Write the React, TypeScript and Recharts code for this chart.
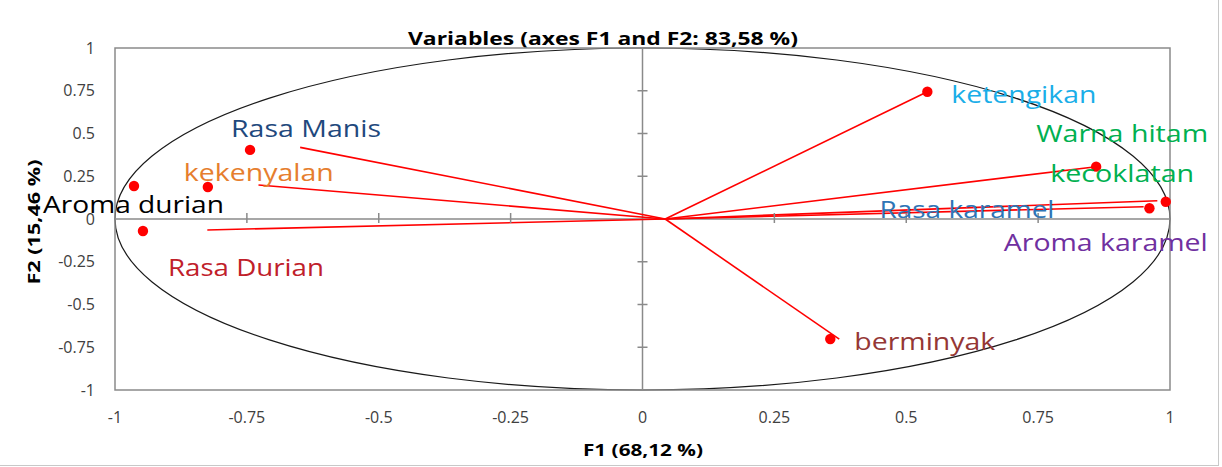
import {
  ScatterChart,
  Scatter,
  XAxis,
  YAxis,
  ReferenceLine,
  ReferenceArea,
} from "recharts";

// PCA correlation circle: variables on F1 / F2
const variables = [
  "Rasa Manis",
  "kekenyalan",
  "Aroma durian",
  "Rasa Durian",
  "ketengikan",
  "Warna hitam kecoklatan",
  "Rasa karamel",
  "Aroma karamel",
  "berminyak",
];
const f1 = [-0.744, -0.824, -0.964, -0.947, 0.54, 0.86, 0.961, 0.992, 0.356];
const f2 = [0.404, 0.187, 0.193, -0.07, 0.744, 0.306, 0.063, 0.101, -0.702];

// red vectors, all drawn from one common start
const vectorStart = { x: 0.043, y: 0 };
const vectorEndF1 = [-0.649, -0.728, -0.825, 0.54, 0.86, 0.95, 0.976, 0.373];
const vectorEndF2 = [0.419, 0.199, -0.064, 0.744, 0.306, 0.072, 0.107, -0.703];

const axisTicks = [-1, -0.75, -0.5, -0.25, 0, 0.25, 0.5, 0.75, 1];
const innerTicks = [-0.75, -0.5, -0.25, 0.25, 0.5, 0.75];

const points = variables.map((name, i) => ({ name, x: f1[i], y: f2[i] }));
const xZeroTicks = innerTicks.map((t) => ({ x: t, y: 0 }));
const yZeroTicks = innerTicks.map((t) => ({ x: 0, y: t }));

const FONT = "'Open Sans', 'Noto Sans', sans-serif";

const labelStyle: Record<
  string,
  { color: string; lines: { text: string; dx: number; dy: number; w: number }[] }
> = {
  "Rasa Manis": { color: "#1F497D", lines: [{ text: "Rasa Manis", dx: -19, dy: -13, w: 150 }] },
  kekenyalan: { color: "#E67E2E", lines: [{ text: "kekenyalan", dx: -24, dy: -6, w: 150 }] },
  "Aroma durian": { color: "#000000", lines: [{ text: "Aroma durian", dx: -91, dy: 27, w: 181 }] },
  "Rasa Durian": { color: "#C0202A", lines: [{ text: "Rasa Durian", dx: 25, dy: 45, w: 156 }] },
  ketengikan: { color: "#1AAEE8", lines: [{ text: "ketengikan", dx: 24, dy: 11, w: 145 }] },
  "Warna hitam kecoklatan": {
    color: "#00B050",
    lines: [
      { text: "Warna hitam", dx: -60, dy: -25, w: 172 },
      { text: "kecoklatan", dx: -46, dy: 15, w: 144 },
    ],
  },
  "Rasa karamel": { color: "#2E75B6", lines: [{ text: "Rasa karamel", dx: -270, dy: 10, w: 175 }] },
  "Aroma karamel": { color: "#7030A0", lines: [{ text: "Aroma karamel", dx: -162, dy: 49, w: 204 }] },
  berminyak: { color: "#953735", lines: [{ text: "berminyak", dx: 24, dy: 11, w: 141 }] },
};

const tickStyle = { fontSize: 16, fill: "#404040", fontFamily: FONT };

function FrameAndCircle(props: any) {
  const { x, y, width, height } = props;
  return (
    <g>
      <ellipse
        cx={x + width / 2}
        cy={y + height / 2}
        rx={width / 2}
        ry={height / 2}
        fill="none"
        stroke="#1a1a1a"
        strokeWidth={1.2}
      />
      <rect x={x} y={y} width={width} height={height} fill="none" stroke="#8a8a8a" strokeWidth={1.5} />
    </g>
  );
}

function VarDot(props: any) {
  const { cx, cy } = props;
  return <circle cx={cx} cy={cy} r={5.2} fill="#FF0000" />;
}

function VarLabel(props: any) {
  const { cx, cy, payload } = props;
  const st = labelStyle[payload.name];
  if (!st) return <g />;
  return (
    <g>
      {st.lines.map((l) => (
        <text
          key={l.text}
          x={cx + l.dx}
          y={cy + l.dy}
          fill={st.color}
          fontSize={24}
          fontFamily={FONT}
          textLength={l.w}
          lengthAdjust="spacingAndGlyphs"
        >
          {l.text}
        </text>
      ))}
    </g>
  );
}

function XZeroTick(props: any) {
  const { cx, cy } = props;
  return <line x1={cx} x2={cx} y1={cy - 6} y2={cy + 4} stroke="#8a8a8a" strokeWidth={1.5} />;
}

function YZeroTick(props: any) {
  const { cx, cy } = props;
  return <line x1={cx - 5} x2={cx + 5} y1={cy} y2={cy} stroke="#8a8a8a" strokeWidth={1.5} />;
}

export default function App() {
  return (
    <div style={{ position: "absolute", left: 0, top: 0, width: 1222, height: 467, background: "#fff" }}>
      <div
        style={{
          position: "absolute",
          left: 0,
          top: 0,
          width: 1218,
          height: 465,
          borderRight: "1px solid #c8c8c8",
          borderBottom: "1px solid #c8c8c8",
        }}
      />
      <ScatterChart width={1222} height={467} margin={{ top: 48, right: 52, bottom: 0, left: 0 }}>
        <XAxis
          type="number"
          dataKey="x"
          domain={[-1, 1]}
          ticks={axisTicks}
          axisLine={false}
          tickLine={false}
          tickSize={0}
          tickMargin={22}
          height={77}
          tick={tickStyle}
        />
        <YAxis
          type="number"
          dataKey="y"
          domain={[-1, 1]}
          ticks={axisTicks}
          axisLine={false}
          tickLine={false}
          tickSize={0}
          tickMargin={20}
          width={115}
          tick={tickStyle}
        />
        <ReferenceArea x1={-1} x2={1} y1={-1} y2={1} shape={FrameAndCircle} />
        <ReferenceLine x={0} stroke="#8a8a8a" strokeWidth={1.5} />
        <ReferenceLine y={0} stroke="#8a8a8a" strokeWidth={1.5} />
        <Scatter data={xZeroTicks} shape={XZeroTick} isAnimationActive={false} />
        <Scatter data={yZeroTicks} shape={YZeroTick} isAnimationActive={false} />
        {vectorEndF1.map((ex, i) => (
          <ReferenceLine
            key={i}
            segment={[vectorStart, { x: ex, y: vectorEndF2[i] }]}
            stroke="#FF0000"
            strokeWidth={1.6}
          />
        ))}
        <Scatter data={points} shape={VarDot} isAnimationActive={false} />
        <Scatter data={points} shape={VarLabel} isAnimationActive={false} />
        <text
          x={603}
          y={45}
          textAnchor="middle"
          fontSize={18}
          fontWeight="bold"
          fontFamily={FONT}
          fill="#000"
          textLength={390}
          lengthAdjust="spacingAndGlyphs"
        >
          Variables (axes F1 and F2: 83,58 %)
        </text>
        <text
          x={643}
          y={456}
          textAnchor="middle"
          fontSize={16}
          fontWeight="bold"
          fontFamily={FONT}
          fill="#000"
          textLength={120}
          lengthAdjust="spacingAndGlyphs"
        >
          F1 (68,12 %)
        </text>
        <text
          x={40}
          y={222}
          transform="rotate(-90, 40, 222)"
          textAnchor="middle"
          fontSize={16}
          fontWeight="bold"
          fontFamily={FONT}
          fill="#000"
          textLength={125}
          lengthAdjust="spacingAndGlyphs"
        >
          F2 (15,46 %)
        </text>
      </ScatterChart>
    </div>
  );
}
